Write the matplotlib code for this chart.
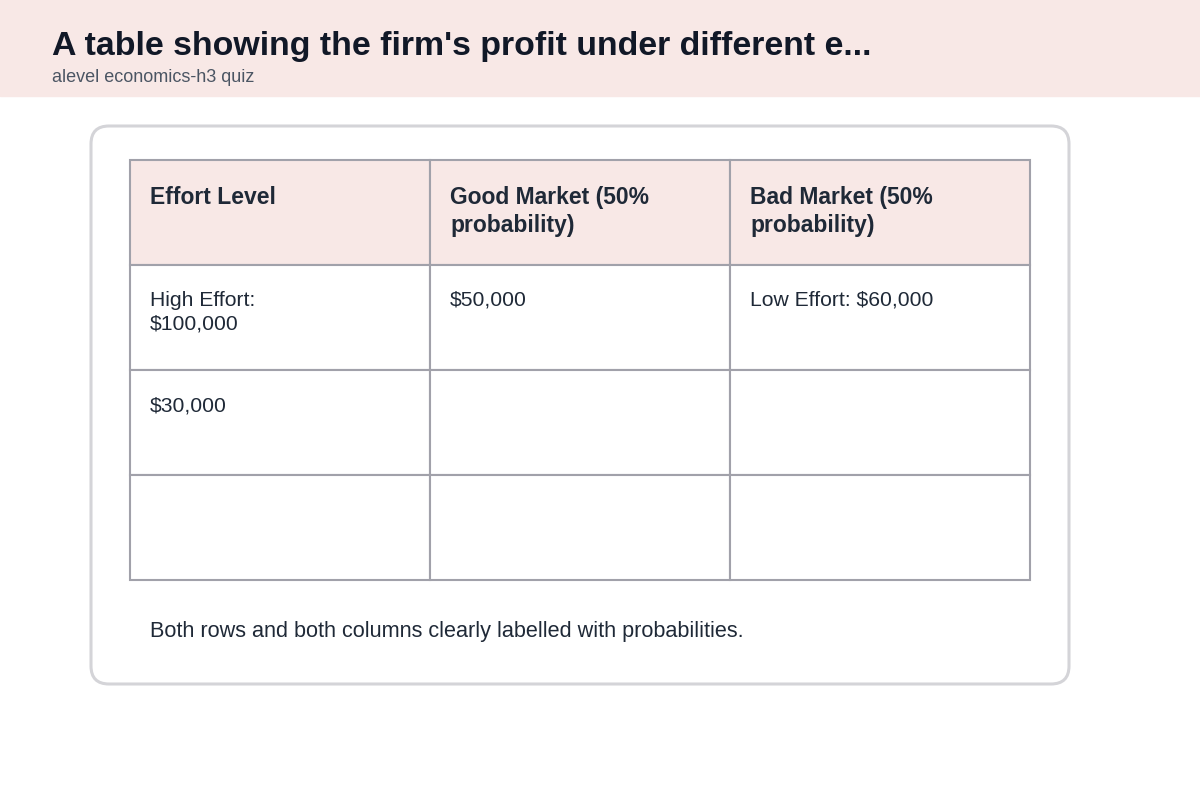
import matplotlib.pyplot as plt
from matplotlib.patches import Rectangle, FancyBboxPatch

plt.rcParams['font.family'] = ['Liberation Sans', 'DejaVu Sans']

TITLE = "A table showing the firm's profit under different e..."
SUBTITLE = "alevel economics-h3 quiz"
HEADERS = ["Effort Level", "Good Market (50%\nprobability)", "Bad Market (50%\nprobability)"]
ROWS = [
    ["High Effort:\n$100,000", "$50,000", "Low Effort: $60,000"],
    ["$30,000", "", ""],
    ["", "", ""],
]
FOOTNOTE = "Both rows and both columns clearly labelled with probabilities."

PINK = "#f8e8e6"
GRID = "#a1a1aa"
TEXT = "#1f2937"

fig = plt.figure(figsize=(12, 8), dpi=100)
ax = fig.add_axes([0, 0, 1, 1])
ax.set_xlim(0, 1200)
ax.set_ylim(800, 0)
ax.axis("off")

# header band
ax.add_patch(Rectangle((0, 0), 1200, 96, color=PINK, zorder=0))
ax.text(52, 47, TITLE, fontsize=24.4, fontweight="bold", color="#111827", va="center")
ax.text(52, 78, SUBTITLE, fontsize=13, color="#4b5563", va="center")

# card
ax.add_patch(FancyBboxPatch((91, 126), 978, 558, boxstyle="round,pad=0,rounding_size=18",
                            fc="white", ec="#d4d4d8", lw=2.2, zorder=1))

# table
col_x = [130, 430, 730, 1030]
row_y = [160, 265, 370, 475, 580]
all_rows = [HEADERS] + ROWS
for r, cells in enumerate(all_rows):
    for c, txt in enumerate(cells):
        x0, y0 = col_x[c], row_y[r]
        w, h = col_x[c + 1] - x0, row_y[r + 1] - y0
        ax.add_patch(Rectangle((x0, y0), w, h, fc=PINK if r == 0 else "white",
                               ec=GRID, lw=1.5, zorder=2))
        if txt:
            ax.text(x0 + 20, y0 + 26, txt, fontsize=16.5 if r == 0 else 15.2,
                    fontweight="bold" if r == 0 else "normal", color=TEXT,
                    va="top", ha="left", linespacing=1.3, zorder=3)

ax.text(150, 632, FOOTNOTE, fontsize=15.6, color=TEXT, va="center", zorder=3)

fig.savefig("out.png", dpi=100)
